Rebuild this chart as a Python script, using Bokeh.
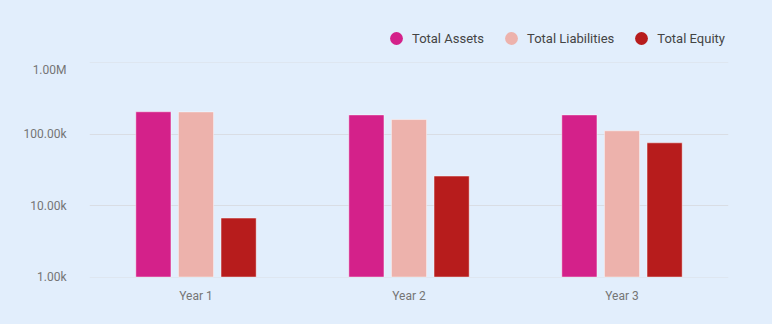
from bokeh.plotting import figure
from bokeh.models import (ColumnDataSource, FactorRange, FixedTicker, Range1d, Legend, LegendItem)
from bokeh.layouts import column
from bokeh.transform import dodge
from bokeh.embed import file_html
from bokeh.resources import INLINE

years = ["Year 1", "Year 2", "Year 3"]
total_assets = [207000, 187000, 187000]
total_liabilities = [206000, 161000, 112000]
total_equity = [6700, 26000, 76000]
series_names = ["Total Assets", "Total Liabilities", "Total Equity"]
colors = ["#D4218A", "#EDB2AC", "#B71C1C"]
tick_values = [1000, 10000, 100000, 1000000]
tick_labels = ["1.00k", "10.00k", "100.00k", "1.00M"]

BG = "#E2EEFC"

src = ColumnDataSource(dict(years=years, assets=total_assets,
                            liabilities=total_liabilities, equity=total_equity))
cols = ["assets", "liabilities", "equity"]

# ---- legend strip (top 62 px) ----
lf = figure(width=772, height=62, x_range=FactorRange(*years), y_axis_type="log",
            output_backend="svg", toolbar_location=None,
            x_axis_location=None, y_axis_location=None,
            min_border_left=0, min_border_right=0, min_border_top=0, min_border_bottom=0)
lf.background_fill_color = BG
lf.border_fill_color = BG
lf.outline_line_color = None
lf.grid.visible = False
lf.styles = {"background-color": BG}

items = []
for name, col, color in zip(series_names, cols, colors):
    r = lf.scatter(x="years", y=col, source=src, size=0, marker="circle",
                   fill_color=color, line_color=None)
    items.append(LegendItem(label=name, renderers=[r]))

legend = Legend(items=items, orientation="horizontal", location=(291, 8),
                glyph_width=32, glyph_height=32, label_standoff=0, spacing=11,
                padding=0, margin=0, border_line_color=None, background_fill_alpha=0,
                label_text_font="Roboto", label_text_font_size="13px",
                label_text_color="#444444")
lf.add_layout(legend, "center")

# ---- main chart ----
p = figure(width=772, height=262, x_range=FactorRange(*years),
           y_axis_type="log", y_range=Range1d(985, 1015000),
           output_backend="svg", toolbar_location=None,
           min_border_left=89, min_border_right=44, min_border_top=0,
           min_border_bottom=47)
p.background_fill_color = BG
p.border_fill_color = BG
p.outline_line_color = None
p.styles = {"background-color": BG}

for col, off, color in zip(cols, [-0.2, 0.0, 0.2], colors):
    p.vbar(x=dodge("years", off, range=p.x_range), top=col, bottom=1000, width=0.165,
           source=src, fill_color=color, line_color="white", line_alpha=0.45, line_width=1)

p.xgrid.grid_line_color = None
p.ygrid.grid_line_color = "#D9DDE4"
p.yaxis.ticker = FixedTicker(ticks=tick_values)
p.yaxis.major_label_overrides = {v: l for v, l in zip(tick_values, tick_labels)}
for ax in (p.xaxis, p.yaxis):
    ax.axis_line_color = None
    ax.major_tick_line_color = None
    ax.minor_tick_line_color = None
    ax.major_label_text_font = "Roboto"
    ax.major_label_text_font_size = "12px"
    ax.major_label_text_color = "#757575"
p.yaxis.major_label_standoff = 17
p.xaxis.major_label_standoff = 5
p.x_range.range_padding = 0

layout = column(lf, p, spacing=0)
layout.styles = {"background-color": BG}
open("out.html", "w").write(file_html(layout, INLINE))
